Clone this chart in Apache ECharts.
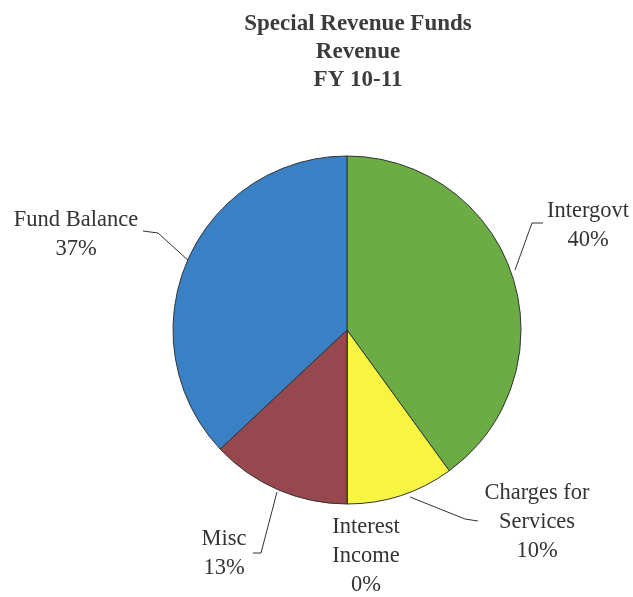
<!DOCTYPE html>
<html>
<head>
<meta charset="utf-8">
<script src="https://cdn.jsdelivr.net/npm/echarts@6/dist/echarts.min.js"></script>
<style>
  html, body { margin: 0; padding: 0; background: #fff; }
  #chart { width: 633px; height: 597px; }
</style>
</head>
<body>
<div id="chart"></div>
<script>
// Revenue sources, clockwise from 12 o'clock
const categories = ['Intergovt', 'Charges for\nServices', 'Interest\nIncome', 'Misc', 'Fund Balance'];
const shares = [40, 10, 0, 13, 37];
const sliceColors = ['#6cac45', '#f7f442', '#d9d9d9', '#97484f', '#3a80c4'];

const titleLines = ['Special Revenue Funds', 'Revenue', 'FY 10-11'];

// Where each label sits and how its leader line runs (pixels)
const labelSpots = {
  'Intergovt':            { x: 588, y: 226, line: [[515, 270], [532, 223], [543, 223]] },
  'Charges for\nServices':{ x: 537, y: 522, line: [[410, 497], [465, 519], [478, 521]] },
  'Interest\nIncome':     { x: 366, y: 556, line: null },
  'Misc':                 { x: 224, y: 554, line: [[277, 492], [261, 553], [253, 553]] },
  'Fund Balance':         { x: 76,  y: 235, line: [[190, 262], [158, 233], [143, 231]] }
};

const serif = '"Liberation Serif", "Times New Roman", serif';

const chart = echarts.init(document.getElementById('chart'), null, { renderer: 'canvas' });

chart.setOption({
  animation: false,
  backgroundColor: '#ffffff',
  title: {
    text: titleLines.join('\n'),
    left: 353,
    top: 5,
    textAlign: 'center',
    textStyle: {
      fontFamily: serif,
      fontWeight: 'bold',
      fontSize: 23,
      lineHeight: 28,
      color: '#3c3c3c'
    }
  },
  series: [{
    type: 'pie',
    center: [347, 330],
    radius: 174,
    startAngle: 90,
    clockwise: true,
    avoidLabelOverlap: false,
    stillShowZeroSum: true,
    itemStyle: { borderColor: '#333', borderWidth: 1 },
    label: {
      show: true,
      position: 'outside',
      fontFamily: serif,
      fontSize: 22.5,
      lineHeight: 29,
      color: '#333',
      align: 'center',
      formatter: p => p.name + '\n' + Math.round(p.percent) + '%'
    },
    labelLine: { show: true, lineStyle: { color: '#333', width: 1 } },
    labelLayout: function (params) {
      const name = categories[params.dataIndex];
      const spot = labelSpots[name];
      const out = { x: spot.x, y: spot.y, align: 'center', verticalAlign: 'middle' };
      if (spot.line) out.labelLinePoints = spot.line;
      return out;
    },
    data: categories.map((name, i) => ({
      name: name,
      value: shares[i],
      itemStyle: { color: sliceColors[i] },
      labelLine: { show: labelSpots[name].line !== null }
    }))
  }]
});
</script>
</body>
</html>
